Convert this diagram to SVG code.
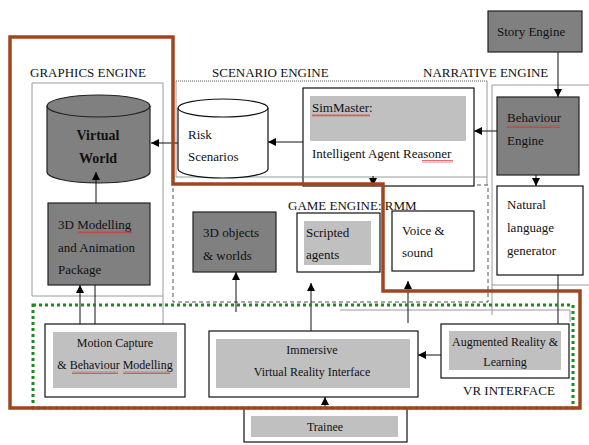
<svg xmlns="http://www.w3.org/2000/svg" width="589" height="445" viewBox="0 0 589 445">
<defs>
<marker id="ah" markerUnits="userSpaceOnUse" markerWidth="9" markerHeight="8" refX="8" refY="4" orient="auto">
<path d="M0,0 L8,4 L0,8 Z" fill="#000"/>
</marker>
<pattern id="sq" patternUnits="userSpaceOnUse" width="4" height="3">
<path d="M0,2.5 L1,0.5 L2,2.5 L3,0.5 L4,2.5" fill="none" stroke="#e03030" stroke-width="0.7"/>
</pattern>
<style>
text{font-family:"Liberation Serif","Times New Roman",serif;font-size:13px;fill:#111}
.sm{font-size:12px}
.b{font-weight:bold;font-size:14px}
.c{text-anchor:middle}
.dark{fill:#808080;stroke:#222;stroke-width:1.2}
.wbox{fill:#fff;stroke:#111;stroke-width:1.2}
.inner{fill:#c0c0c0;stroke:none}
.frame{fill:none;stroke:#9a9a9a;stroke-width:1}
.dash{fill:none;stroke:#555;stroke-width:1;stroke-dasharray:4,3}
.dot{fill:none;stroke:#555;stroke-width:1;stroke-dasharray:1,1}
.con{fill:none;stroke:#111;stroke-width:1}
.arr{marker-end:url(#ah)}
.squig{fill:url(#sq)}
</style>
</defs>
<rect width="589" height="445" fill="#fff"/>

<g id="frames">
<path class="frame" d="M32,296 V83 H163 V325 M32,296 H163"/>
<path class="dot" d="M176,81 H487"/>
<path class="frame" d="M176,81 V177 H487 M487,81 V185"/>
<path class="dash" d="M173,188 V302 H488 V185 H474"/>
<path class="frame" d="M589,85 H492 V315 M492,285 H589"/>
<path class="frame" d="M340,310 H570 V322"/>
</g>

<g id="labels">
<text x="30" y="77">GRAPHICS ENGINE</text>
<text x="212" y="77">SCENARIO ENGINE</text>
<text x="423" y="77">NARRATIVE ENGINE</text>
<text x="288" y="210">GAME ENGINE: RMM</text>
<text x="463" y="395">VR INTERFACE</text>
</g>

<g id="story-engine">
<rect class="dark" x="488" y="11" width="94" height="41"/>
<text x="497" y="36">Story Engine</text>
</g>

<g id="behaviour-engine">
<rect class="dark" x="497" y="97" width="82" height="78"/>
<text x="507" y="122">Behaviour</text>
<text x="507" y="145">Engine</text>
<rect class="squig" x="507" y="125" width="53" height="3"/>
</g>

<g id="simmaster">
<rect class="wbox" x="303" y="88" width="171" height="98"/>
<rect class="inner" x="310" y="96" width="156" height="45"/>
<text x="312" y="112">SimMaster:</text>
<text x="312" y="158">Intelligent Agent Reasoner</text>
<rect class="squig" x="312" y="114" width="58" height="3"/>
<rect class="squig" x="422" y="160" width="31" height="3"/>
<path class="frame" d="M303,177 H474"/>
</g>

<g id="risk-scenarios">
<path d="M178,108 A45,9 0 0,1 268,108 V169 A45,9 0 0,1 178,169 Z" fill="#fff" stroke="#111" stroke-width="1.2"/>
<path d="M178,108 A45,9 0 0,0 268,108" fill="none" stroke="#111" stroke-width="1.2"/>
<text x="188" y="139">Risk</text>
<text x="188" y="161">Scenarios</text>
</g>

<g id="virtual-world">
<path d="M47,106 A51.5,11 0 0,1 150,106 V172 A51.5,11 0 0,1 47,172 Z" fill="#808080" stroke="#222" stroke-width="1.2"/>
<path d="M47,106 A51.5,11 0 0,0 150,106" fill="none" stroke="#222" stroke-width="1.2"/>
<text class="b c" x="98" y="140">Virtual</text>
<text class="b c" x="98" y="163">World</text>
</g>

<g id="modelling-package">
<rect class="dark" x="48" y="203" width="102" height="82"/>
<text x="58" y="229">3D Modelling</text>
<text x="58" y="252">and Animation</text>
<text x="58" y="274">Package</text>
<rect class="squig" x="78" y="231" width="54" height="3"/>
</g>

<g id="objects-worlds">
<rect class="dark" x="193" y="212" width="83" height="60"/>
<text x="203" y="237">3D objects</text>
<text x="203" y="260">&amp; worlds</text>
</g>

<g id="scripted-agents">
<rect class="wbox" x="297" y="213" width="83" height="59"/>
<rect class="inner" x="304" y="221" width="67" height="44"/>
<text x="306" y="237">Scripted</text>
<text x="306" y="259">agents</text>
</g>

<g id="voice-sound">
<rect class="wbox" x="392" y="211" width="82" height="60"/>
<text x="402" y="235">Voice &amp;</text>
<text x="402" y="257">sound</text>
</g>

<g id="natural-language">
<rect class="wbox" x="497" y="186" width="86" height="89"/>
<text x="507" y="209">Natural</text>
<text x="507" y="232">language</text>
<text x="507" y="255">generator</text>
</g>

<g id="augmented-reality">
<rect class="wbox" x="441" y="324" width="128" height="54"/>
<rect class="inner" x="449" y="331" width="112" height="39"/>
<text class="sm c" x="505" y="346">Augmented Reality &amp;</text>
<text class="sm c" x="505" y="366">Learning</text>
</g>

<g id="immersive-vr">
<rect class="wbox" x="209" y="331" width="209" height="66"/>
<rect class="inner" x="216" y="339" width="194" height="49"/>
<text class="sm c" x="312" y="354">Immersive</text>
<text class="sm c" x="312" y="376">Virtual Reality Interface</text>
</g>

<g id="motion-capture">
<rect class="wbox" x="45" y="324" width="140" height="73"/>
<rect class="inner" x="53" y="332" width="124" height="56"/>
<text class="sm c" x="115" y="347">Motion Capture</text>
<text class="sm c" x="115" y="369">&amp; Behaviour Modelling</text>
<rect class="squig" x="72" y="371" width="46" height="3"/>
<rect class="squig" x="123" y="371" width="47" height="3"/>
</g>

<g id="trainee">
<rect class="wbox" x="244" y="408" width="163" height="34"/>
<rect class="inner" x="251" y="416" width="147" height="21"/>
<text class="sm c" x="325" y="431">Trainee</text>
</g>

<g id="connectors">
<path class="con arr" d="M558,52 V97"/>
<path class="con arr" d="M497,131 H474"/>
<path class="con arr" d="M303,142 H268"/>
<path class="con arr" d="M178,143 H151"/>
<path class="con arr" d="M96,203 V172"/>
<path class="con arr" d="M536,175 V186"/>
<path class="con arr" d="M373,176 V186"/>
<path class="con arr" d="M80,324 V285"/>
<path class="con" d="M95,285 V324"/>
<path class="con arr" d="M236,312 V272"/>
<path class="con arr" d="M311,331 V283"/>
<path class="con arr" d="M408,323 V281"/>
<path class="con" d="M558,275 V324"/>
<path class="con arr" d="M441,355 H418"/>
<path class="con arr" d="M325,408 V397"/>
</g>

<g id="boundaries">
<rect x="33" y="305" width="540" height="103" fill="none" stroke="#1a8c1a" stroke-width="3" stroke-dasharray="3,3"/>
<path d="M10,37 H173 V184 H383 V291 H580 V408 H10 Z" fill="none" stroke="#a0461e" stroke-width="3.5"/>
</g>
</svg>
